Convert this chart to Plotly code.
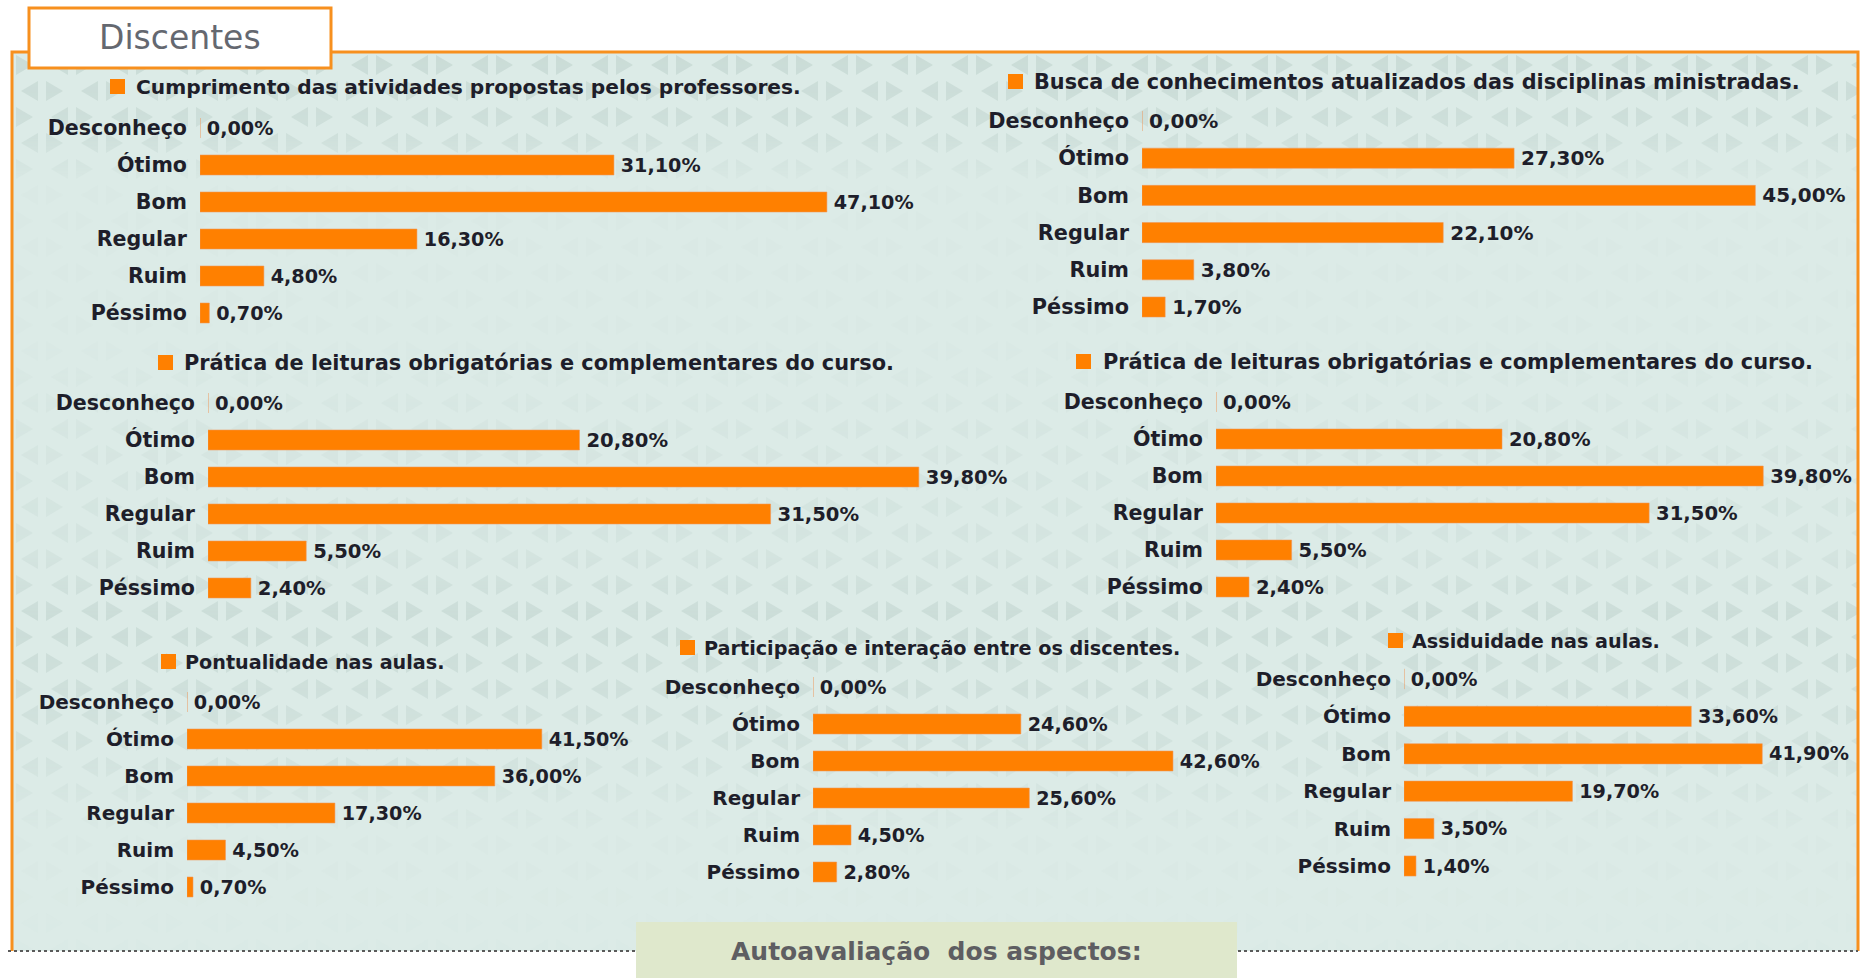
import base64
import plotly.graph_objects as go

# ---- data -------------------------------------------------------------
categorias = ["Desconheço", "Ótimo", "Bom", "Regular", "Ruim", "Péssimo"]

titulos = [
    "Cumprimento das atividades propostas pelos professores.",
    "Busca de conhecimentos atualizados das disciplinas ministradas.",
    "Prática de leituras obrigatórias e complementares do curso.",
    "Prática de leituras obrigatórias e complementares do curso.",
    "Pontualidade nas aulas.",
    "Participação e interação entre os discentes.",
    "Assiduidade nas aulas.",
]

cumprimento = [0.0, 31.1, 47.1, 16.3, 4.8, 0.7]
busca = [0.0, 27.3, 45.0, 22.1, 3.8, 1.7]
leituras_a = [0.0, 20.8, 39.8, 31.5, 5.5, 2.4]
leituras_b = [0.0, 20.8, 39.8, 31.5, 5.5, 2.4]
pontualidade = [0.0, 41.5, 36.0, 17.3, 4.5, 0.7]
participacao = [0.0, 24.6, 42.6, 25.6, 4.5, 2.8]
assiduidade = [0.0, 33.6, 41.9, 19.7, 3.5, 1.4]

series = [cumprimento, busca, leituras_a, leituras_b,
          pontualidade, participacao, assiduidade]

# ---- layout of the seven small charts (pixels) -------------------------
# zero x, px per %, x max, first row centre, row pitch, title y, square x,
# title x, title font, tick font, value font
paineis = [
    (200, 13.31, 50, 128, 37.0, 87, 110, 134, 20.2, 20.6, 19.2),
    (1142, 13.63, 50, 121, 37.2, 82, 1008, 1032, 20.8, 20.8, 20.0),
    (208, 17.86, 45, 403, 37.0, 363, 158, 182, 20.9, 20.6, 19.6),
    (1216, 13.75, 45, 402, 37.0, 362, 1076, 1101, 20.9, 20.6, 19.6),
    (187, 8.55, 50, 702, 37.0, 662, 161, 183, 19.2, 20.0, 19.2),
    (813, 8.45, 50, 687, 37.0, 648, 680, 702, 19.2, 20.0, 19.2),
    (1404, 8.55, 50, 679, 37.4, 641, 1388, 1410, 19.2, 20.0, 19.2),
]

W, H = 1863, 978
LARANJA = "#FF8000"
BORDA = "#F7901E"
TEXTO = "#1e1e2a"
FONTE = "DejaVu Sans"


def px(x):
    return x / W


def py(y):
    return 1 - y / H


def rotulo(v):
    return "\u2009" + f"{v:.2f}".replace(".", ",") + "%"


fig = go.Figure()
layout = {}
shapes = []
annotations = []

for i, (vals, titulo, p) in enumerate(zip(series, titulos, paineis), start=1):
    x0, esc, xmax, c0, passo, ty, sx, tx, ft, fk, fv = p
    sufixo = "" if i == 1 else str(i)
    topo = c0 - passo / 2
    base = c0 + passo * 5.5
    layout["xaxis" + sufixo] = dict(
        domain=[px(x0), px(x0 + xmax * esc)], range=[0, xmax],
        visible=False, fixedrange=True, anchor="y" + sufixo,
    )
    layout["yaxis" + sufixo] = dict(
        domain=[py(base), py(topo)], type="category",
        categoryorder="array", categoryarray=categorias,
        range=[5.5, -0.5], showgrid=False, zeroline=False, showline=False,
        ticks="", ticklabelstandoff=12, anchor="x" + sufixo,
        tickfont=dict(family=FONTE, size=fk, color=TEXTO, weight="bold"),
        fixedrange=True,
    )
    fig.add_trace(go.Bar(
        x=vals, y=categorias, orientation="h",
        xaxis="x" + sufixo, yaxis="y" + sufixo,
        width=0.54,
        marker=dict(color=LARANJA, line=dict(color="rgba(240,150,90,0.55)", width=1)),
        text=[rotulo(v) for v in vals], textposition="outside",
        constraintext="none", cliponaxis=False,
        textfont=dict(family=FONTE, size=fv, color=TEXTO, weight="bold"),
        hoverinfo="skip", showlegend=False,
    ))
    # small orange square before each chart title
    shapes.append(dict(
        type="rect", xref="paper", yref="paper",
        x0=px(sx), x1=px(sx + 15), y0=py(ty + 7), y1=py(ty - 8),
        fillcolor=LARANJA, line=dict(width=0), layer="above",
    ))
    annotations.append(dict(
        text=titulo, xref="paper", yref="paper", x=px(tx), y=py(ty),
        xanchor="left", yanchor="middle", showarrow=False,
        font=dict(family=FONTE, size=ft, color=TEXTO, weight="bold"),
    ))

# ---- patterned mint panel background ------------------------------------
PW, PH = 1846, 899
svg = f"""<svg xmlns='http://www.w3.org/2000/svg' width='{PW}' height='{PH}' viewBox='0 0 {PW} {PH}'>
<defs>
<pattern id='p' width='60' height='52' patternUnits='userSpaceOnUse'>
<polygon points='4,3 21,13 4,23' fill='#c8dad5'/>
<polygon points='56,3 39,13 56,23' fill='#c8dad5'/>
<polygon points='34,29 51,39 34,49' fill='#c8dad5'/>
<polygon points='26,29 9,39 26,49' fill='#c8dad5'/>
</pattern>
<linearGradient id='g' x1='0' y1='0' x2='0' y2='1'>
<stop offset='0' stop-color='#fff' stop-opacity='0.9'/>
<stop offset='0.09' stop-color='#fff' stop-opacity='0.7'/>
<stop offset='0.15' stop-color='#fff' stop-opacity='0.08'/>
<stop offset='0.33' stop-color='#fff' stop-opacity='0.08'/>
<stop offset='0.43' stop-color='#fff' stop-opacity='0.3'/>
<stop offset='0.56' stop-color='#fff' stop-opacity='0.4'/>
<stop offset='0.63' stop-color='#fff' stop-opacity='0.85'/>
<stop offset='0.78' stop-color='#fff' stop-opacity='0.5'/>
<stop offset='0.87' stop-color='#fff' stop-opacity='0.08'/>
<stop offset='1' stop-color='#fff' stop-opacity='0.05'/>
</linearGradient>
<mask id='m'><rect width='{PW}' height='{PH}' fill='url(#g)'/></mask>
</defs>
<rect width='{PW}' height='{PH}' fill='#dcebe7'/>
<rect width='{PW}' height='{PH}' fill='url(#p)' mask='url(#m)'/>
</svg>"""
fundo = "data:image/svg+xml;base64," + base64.b64encode(svg.encode()).decode()

images = [dict(
    source=fundo, xref="paper", yref="paper",
    x=px(12), y=py(52), sizex=PW / W, sizey=PH / H,
    xanchor="left", yanchor="top", sizing="stretch", layer="below",
)]

# panel frame: orange on three sides, dotted rule at the bottom
shapes.insert(0, dict(
    type="path", xref="paper", yref="paper",
    path=f"M {px(12)} {py(951)} L {px(12)} {py(52)} L {px(1858)} {py(52)} L {px(1858)} {py(951)}",
    line=dict(color=BORDA, width=3), layer="below",
))
shapes.insert(1, dict(
    type="line", xref="paper", yref="paper",
    x0=px(8), x1=px(1858), y0=py(951), y1=py(951),
    line=dict(color="#5a5a5a", width=2, dash="dot"), layer="below",
))
# header tab
shapes.append(dict(
    type="rect", xref="paper", yref="paper",
    x0=px(29), x1=px(331), y0=py(68), y1=py(8),
    fillcolor="white", line=dict(color=BORDA, width=3), layer="above",
))
# footer tab
shapes.append(dict(
    type="rect", xref="paper", yref="paper",
    x0=px(636), x1=px(1237), y0=0, y1=py(922),
    fillcolor="#dfe8cc", line=dict(width=0), layer="above",
))

annotations.append(dict(
    text="Discentes", xref="paper", yref="paper", x=px(180), y=py(37),
    xanchor="center", yanchor="middle", showarrow=False,
    font=dict(family=FONTE, size=33, color="#646870"),
))
annotations.append(dict(
    text="Autoavaliação\u00a0 dos aspectos:", xref="paper", yref="paper",
    x=px(936), y=py(951), xanchor="center", yanchor="middle", showarrow=False,
    font=dict(family=FONTE, size=25, color="#5e5e62", weight="bold"),
))

fig.update_layout(
    width=W, height=H, margin=dict(l=0, r=0, t=0, b=0),
    paper_bgcolor="white", plot_bgcolor="rgba(0,0,0,0)",
    showlegend=False, barmode="overlay",
    shapes=shapes, annotations=annotations, images=images,
    **layout,
)

fig.write_html("out.html")
